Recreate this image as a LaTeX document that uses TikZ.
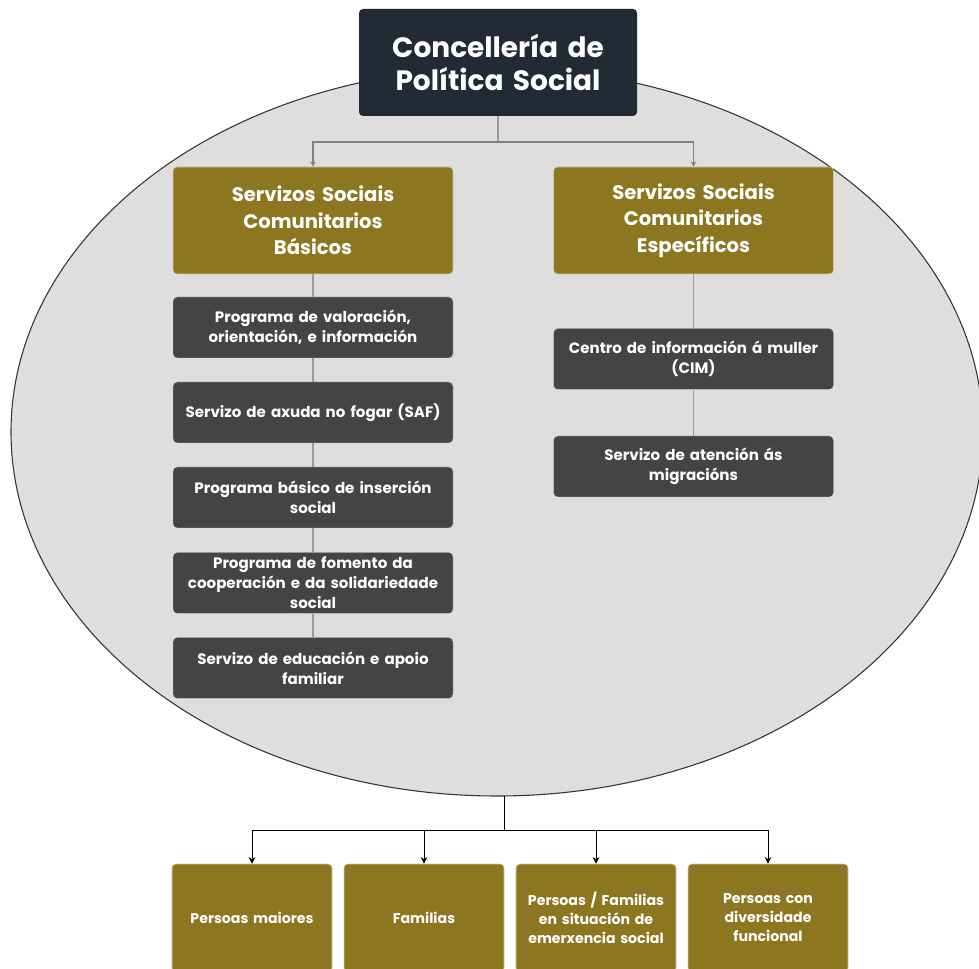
\documentclass[tikz,border=0pt]{standalone}
\usepackage{fontspec}
\setmainfont{Poppins}
\usetikzlibrary{shapes.geometric,arrows.meta}
\definecolor{navy}{HTML}{222A36}
\definecolor{olive}{HTML}{8C7720}
\definecolor{darkbox}{HTML}{444444}
\definecolor{ellfill}{HTML}{DEDEDE}
\definecolor{conn}{HTML}{9A9A9A}
\tikzset{
  base/.style={rectangle, rounded corners=3pt, align=center, text=white, inner sep=2pt, font=\bfseries},
  titlebox/.style={base, fill=navy, minimum width=208.5pt, minimum height=80.25pt, text width=204pt, font=\bfseries\fontsize{21}{24.5}\selectfont},
  headbox/.style={base, fill=olive, draw=olive!40!white, line width=0.4pt, minimum width=210pt, minimum height=80.25pt, text width=205pt, font=\bfseries\fontsize{14.7}{20}\selectfont},
  itembox/.style={base, fill=darkbox, draw=white!85!black, line width=0.3pt, minimum width=210pt, minimum height=45.75pt, text width=205pt, font=\bfseries\fontsize{11.3}{15}\selectfont},
  groupbox/.style={base, fill=olive, draw=olive!40!white, line width=0.4pt, minimum width=120pt, minimum height=81pt, text width=115pt, font=\bfseries\fontsize{10.6}{14.3}\selectfont},
  greyline/.style={draw=conn, line width=0.8pt},
  greyarrow/.style={greyline, -{Stealth[length=4pt,width=4pt]}, draw=gray},
  blackline/.style={draw=black, line width=0.6pt},
  blackarrow/.style={blackline, -{Stealth[length=5pt,width=5pt]}},
}
\begin{document}
\begin{tikzpicture}[x=0.75pt, y=-0.75pt]
\useasboundingbox (0,0) rectangle (979,969);
\fill[white] (0,0) rectangle (979,969);
% ellipse background
\node[ellipse, draw=black!80, line width=0.8pt, fill=ellfill, minimum width=729pt, minimum height=546pt, inner sep=0pt] (ell) at (497,432) {};
% title
\node[titlebox] (top) at (498,62.5) {Concellería de\\Política Social};
% header boxes
\node[headbox] (basic) at (313,220.5) {Servizos Sociais\\Comunitarios\\Básicos};
\node[headbox] (spec) at (693.5,220.5) {Servizos Sociais\\Comunitarios\\Específicos};
% left column
\node[itembox] (b1) at (313,327.5) {Programa de valoración,\\orientación, e información};
\node[itembox] (b2) at (313,412.5) {Servizo de axuda no fogar (SAF)};
\node[itembox] (b3) at (313,497.5) {Programa básico de inserción\\social};
\node[itembox] (b4) at (313,583) {Programa de fomento da\\cooperación e da solidariedade\\social};
\node[itembox] (b5) at (313,668) {Servizo de educación e apoio\\familiar};
% right column
\node[itembox] (r1) at (693.5,359) {Centro de información á muller\\(CIM)};
\node[itembox] (r2) at (693.5,466.5) {Servizo de atención ás\\migracións};
% bottom groups
\node[groupbox] (g1) at (252,918) {Persoas maiores};
\node[groupbox] (g2) at (424,918) {Familias};
\node[groupbox] (g3) at (596,918) {Persoas / Familias\\en situación de\\emerxencia social};
\node[groupbox] (g4) at (768,918) {Persoas con\\diversidade\\funcional};
% connectors top
\coordinate (j1) at (498,142);
\draw[greyline] (top.south) -- (j1);
\draw[greyarrow] (j1) -| (basic.north);
\draw[greyarrow] (j1) -| (spec.north);
% column connectors
\draw[greyline] (basic.south) -- (b1.north);
\draw[greyline] (b1.south) -- (b2.north);
\draw[greyline] (b2.south) -- (b3.north);
\draw[greyline] (b3.south) -- (b4.north);
\draw[greyline] (b4.south) -- (b5.north);
\draw[greyline] (spec.south) -- (r1.north);
\draw[greyline] (r1.south) -- (r2.north);
% bottom connectors
\coordinate (eb) at (504,796);
\coordinate (j2) at (504,830);
\draw[blackline] (eb) -- (j2);
\draw[blackarrow] (j2) -| (g1.north);
\draw[blackarrow] (j2) -| (g2.north);
\draw[blackarrow] (j2) -| (g3.north);
\draw[blackarrow] (j2) -| (g4.north);
\end{tikzpicture}
\end{document}
